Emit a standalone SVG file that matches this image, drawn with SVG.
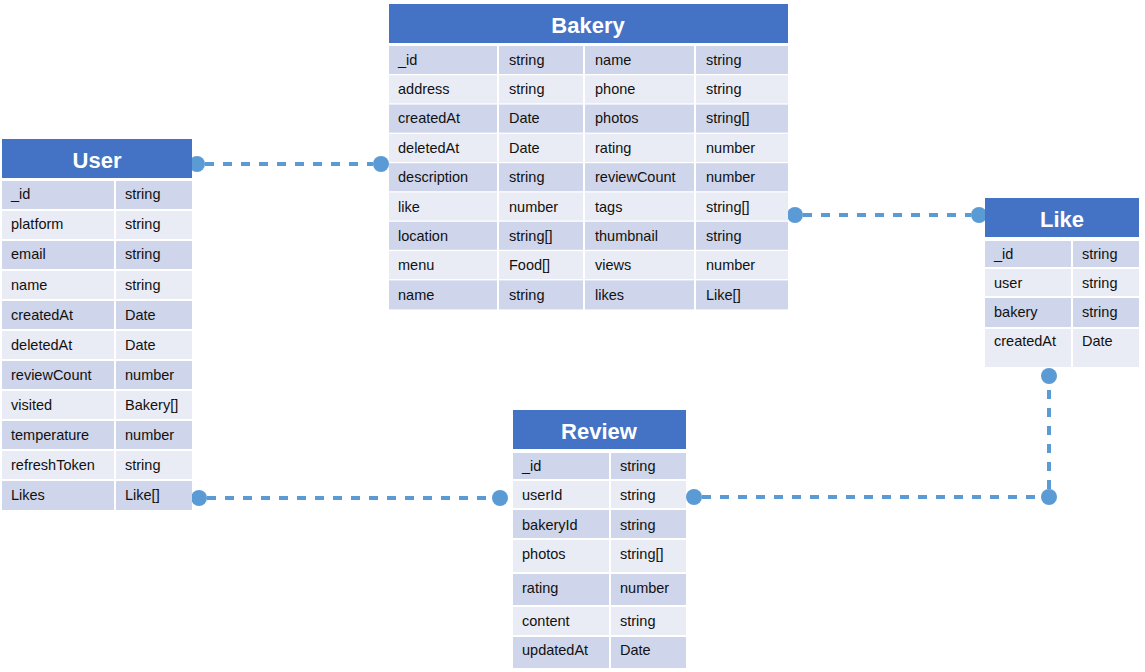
<svg xmlns="http://www.w3.org/2000/svg" width="1145" height="672" viewBox="0 0 1145 672">
<defs>
<style>
.hd{fill:#4472C4}
.b1{fill:#CFD5EA}
.b2{fill:#E9EBF5}
.dv{stroke:#FFFFFF;stroke-width:2}
.ht{font-family:"Liberation Sans",Arial,sans-serif;font-weight:bold;font-size:22px;fill:#FFFFFF;text-anchor:middle}
.t{font-family:"Liberation Sans",Arial,sans-serif;font-size:14.5px;fill:#111111}
.cn{fill:none;stroke:#5B9BD5;stroke-width:4;stroke-dasharray:9 9}
.dot{fill:#5B9BD5}
</style>
</defs>
<rect width="1145" height="672" fill="#FFFFFF"/>

<g id="connectors">
<line class="cn" x1="205" y1="164" x2="373" y2="164"/>
<circle class="dot" cx="197" cy="164" r="8"/>
<circle class="dot" cx="381" cy="164" r="8"/>
<line class="cn" x1="803" y1="215" x2="971" y2="215"/>
<circle class="dot" cx="795" cy="215" r="8"/>
<circle class="dot" cx="979" cy="215" r="8"/>
<line class="cn" x1="207" y1="498" x2="492" y2="498"/>
<circle class="dot" cx="199" cy="498" r="8"/>
<circle class="dot" cx="500" cy="498" r="8"/>
<path class="cn" d="M702 497 H1040"/>
<path class="cn" d="M1049 489 V384"/>
<circle class="dot" cx="694" cy="497" r="8"/>
<circle class="dot" cx="1049" cy="497" r="8"/>
<circle class="dot" cx="1049" cy="376" r="8"/>
</g>

<g id="user">
<rect class="hd" x="2" y="139" width="190" height="39"/>
<text class="ht" x="97" y="168">User</text>
<rect class="b1" x="2" y="181" width="190" height="28"/>
<rect class="b2" x="2" y="211" width="190" height="28"/>
<rect class="b1" x="2" y="241" width="190" height="28"/>
<rect class="b2" x="2" y="271" width="190" height="28"/>
<rect class="b1" x="2" y="301" width="190" height="28"/>
<rect class="b2" x="2" y="331" width="190" height="28"/>
<rect class="b1" x="2" y="361" width="190" height="28"/>
<rect class="b2" x="2" y="391" width="190" height="28"/>
<rect class="b1" x="2" y="421" width="190" height="28"/>
<rect class="b2" x="2" y="451" width="190" height="28"/>
<rect class="b1" x="2" y="481" width="190" height="29"/>
<line class="dv" x1="115" y1="180" x2="115" y2="511"/>
<text class="t" x="11" y="199">_id</text><text class="t" x="125" y="199">string</text>
<text class="t" x="11" y="229">platform</text><text class="t" x="125" y="229">string</text>
<text class="t" x="11" y="259">email</text><text class="t" x="125" y="259">string</text>
<text class="t" x="11" y="290">name</text><text class="t" x="125" y="290">string</text>
<text class="t" x="11" y="320">createdAt</text><text class="t" x="125" y="320">Date</text>
<text class="t" x="11" y="350">deletedAt</text><text class="t" x="125" y="350">Date</text>
<text class="t" x="11" y="380">reviewCount</text><text class="t" x="125" y="380">number</text>
<text class="t" x="11" y="410">visited</text><text class="t" x="125" y="410">Bakery[]</text>
<text class="t" x="11" y="440">temperature</text><text class="t" x="125" y="440">number</text>
<text class="t" x="11" y="470">refreshToken</text><text class="t" x="125" y="470">string</text>
<text class="t" x="11" y="500">Likes</text><text class="t" x="125" y="500">Like[]</text>
</g>

<g id="bakery">
<rect class="hd" x="389" y="4" width="399" height="39"/>
<text class="ht" x="588" y="33">Bakery</text>
<rect class="b1" x="389" y="46" width="399" height="28"/>
<rect class="b2" x="389" y="75.3" width="399" height="28"/>
<rect class="b1" x="389" y="104.6" width="399" height="28"/>
<rect class="b2" x="389" y="133.9" width="399" height="28"/>
<rect class="b1" x="389" y="163.2" width="399" height="28"/>
<rect class="b2" x="389" y="192.5" width="399" height="28"/>
<rect class="b1" x="389" y="221.8" width="399" height="28"/>
<rect class="b2" x="389" y="251.1" width="399" height="28"/>
<rect class="b1" x="389" y="280.4" width="399" height="29"/>
<line class="dv" x1="498" y1="45" x2="498" y2="310"/>
<line class="dv" x1="584" y1="45" x2="584" y2="310"/>
<line class="dv" x1="695" y1="45" x2="695" y2="310"/>
<text class="t" x="398" y="65">_id</text><text class="t" x="509" y="65">string</text><text class="t" x="595" y="65">name</text><text class="t" x="706" y="65">string</text>
<text class="t" x="398" y="94">address</text><text class="t" x="509" y="94">string</text><text class="t" x="595" y="94">phone</text><text class="t" x="706" y="94">string</text>
<text class="t" x="398" y="123">createdAt</text><text class="t" x="509" y="123">Date</text><text class="t" x="595" y="123">photos</text><text class="t" x="706" y="123">string[]</text>
<text class="t" x="398" y="153">deletedAt</text><text class="t" x="509" y="153">Date</text><text class="t" x="595" y="153">rating</text><text class="t" x="706" y="153">number</text>
<text class="t" x="398" y="182">description</text><text class="t" x="509" y="182">string</text><text class="t" x="595" y="182">reviewCount</text><text class="t" x="706" y="182">number</text>
<text class="t" x="398" y="212">like</text><text class="t" x="509" y="212">number</text><text class="t" x="595" y="212">tags</text><text class="t" x="706" y="212">string[]</text>
<text class="t" x="398" y="241">location</text><text class="t" x="509" y="241">string[]</text><text class="t" x="595" y="241">thumbnail</text><text class="t" x="706" y="241">string</text>
<text class="t" x="398" y="270">menu</text><text class="t" x="509" y="270">Food[]</text><text class="t" x="595" y="270">views</text><text class="t" x="706" y="270">number</text>
<text class="t" x="398" y="300">name</text><text class="t" x="509" y="300">string</text><text class="t" x="595" y="300">likes</text><text class="t" x="706" y="300">Like[]</text>
</g>

<g id="like">
<rect class="hd" x="985" y="198" width="154" height="39"/>
<text class="ht" x="1062" y="227">Like</text>
<rect class="b1" x="985" y="241" width="154" height="26"/>
<rect class="b2" x="985" y="269" width="154" height="27"/>
<rect class="b1" x="985" y="298" width="154" height="29"/>
<rect class="b2" x="985" y="329" width="154" height="38"/>
<line class="dv" x1="1072" y1="240" x2="1072" y2="368"/>
<text class="t" x="994" y="259">_id</text><text class="t" x="1082" y="259">string</text>
<text class="t" x="994" y="288">user</text><text class="t" x="1082" y="288">string</text>
<text class="t" x="994" y="317">bakery</text><text class="t" x="1082" y="317">string</text>
<text class="t" x="994" y="346">createdAt</text><text class="t" x="1082" y="346">Date</text>
</g>

<g id="review">
<rect class="hd" x="513" y="410" width="173" height="39"/>
<text class="ht" x="599" y="439">Review</text>
<rect class="b1" x="513" y="453" width="173" height="26"/>
<rect class="b2" x="513" y="481" width="173" height="27"/>
<rect class="b1" x="513" y="510" width="173" height="28"/>
<rect class="b2" x="513" y="540" width="173" height="32"/>
<rect class="b1" x="513" y="574" width="173" height="31"/>
<rect class="b2" x="513" y="607" width="173" height="28"/>
<rect class="b1" x="513" y="637" width="173" height="31"/>
<line class="dv" x1="610" y1="452" x2="610" y2="669"/>
<text class="t" x="522" y="471">_id</text><text class="t" x="620" y="471">string</text>
<text class="t" x="522" y="500">userId</text><text class="t" x="620" y="500">string</text>
<text class="t" x="522" y="530">bakeryId</text><text class="t" x="620" y="530">string</text>
<text class="t" x="522" y="559">photos</text><text class="t" x="620" y="559">string[]</text>
<text class="t" x="522" y="593">rating</text><text class="t" x="620" y="593">number</text>
<text class="t" x="522" y="626">content</text><text class="t" x="620" y="626">string</text>
<text class="t" x="522" y="655">updatedAt</text><text class="t" x="620" y="655">Date</text>
</g>
</svg>
